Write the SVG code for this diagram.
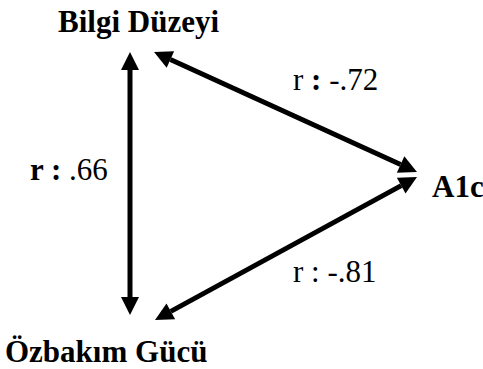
<svg xmlns="http://www.w3.org/2000/svg" width="483" height="369" viewBox="0 0 483 369">
<style>
.t{font-family:'Liberation Serif','Times New Roman','DejaVu Serif',serif;font-size:31px;fill:#000}
.b{font-weight:bold}
.c line{stroke:#000;stroke-width:5;marker-start:url(#h);marker-end:url(#h)}
</style>
<defs>
<marker id="h" markerUnits="userSpaceOnUse" markerWidth="18" markerHeight="18" refX="0" refY="9" orient="auto-start-reverse" overflow="visible">
<path d="M0,0 L18,9 L0,18 Z" fill="#000"/>
</marker>
</defs>
<g id="connectors" class="c">
<line x1="130" y1="70" x2="130" y2="297"/>
<line x1="170.4" y1="59.5" x2="400.6" y2="164.5"/>
<line x1="401.2" y1="185.6" x2="170.8" y2="311.4"/>
</g>
<g id="bilgi"><text class="t b" font-family="Liberation Serif, serif" x="58" y="32">Bilgi Düzeyi</text></g>
<g id="a1c"><text class="t b" font-family="Liberation Serif, serif" x="432" y="197">A1c</text></g>
<g id="ozbakim"><text class="t b" font-family="Liberation Serif, serif" x="5" y="362">Özbakım Gücü</text></g>
<g id="labels">
<text class="t" font-family="Liberation Serif, serif" x="30" y="180"><tspan class="b">r :</tspan> .66</text>
<text class="t" font-family="Liberation Serif, serif" x="293" y="90">r <tspan class="b">:</tspan> -.72</text>
<text class="t" font-family="Liberation Serif, serif" x="293" y="282">r : -.81</text>
</g>
</svg>
